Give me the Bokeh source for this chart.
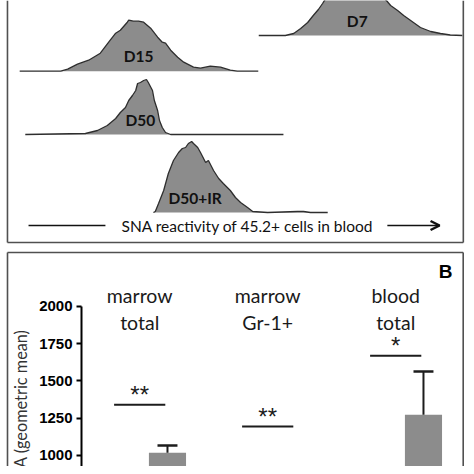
import numpy as np
from bokeh.plotting import figure
from bokeh.layouts import column
from bokeh.models import Range1d, Label, Arrow, OpenHead, LinearAxis, FixedTicker
from bokeh.core.properties import value
from bokeh.embed import file_html
from bokeh.resources import INLINE

# ---------------- Panel A: SNA histograms (channel 0-1000, arbitrary counts) -------------
hist_names = ["D7", "D15", "D50", "D50+IR"]
d7_channel = [537, 594, 612, 627, 642, 654, 665, 674, 682, 697, 723, 745, 766, 792, 811, 820,
              835, 848, 863, 884, 906, 927, 948, 974]
d7_count = [0, 0, 2, 7, 13, 20, 26, 32, 38, 44, 49, 50, 49, 43, 35, 30, 25, 20, 15, 8, 4, 2, 0.5, 0]
d15_channel = [24, 112, 127, 148, 172, 197, 215, 230, 240, 255, 258, 268, 279, 290, 305, 320, 330,
               337, 348, 363, 376, 397, 412, 433, 455, 476, 491, 536]
d15_count = [0, 0, 2, 7, 11, 18, 29, 38, 41, 49, 51, 50, 50, 49, 43, 34, 29, 28, 21, 14, 9, 4, 3,
             5, 4, 1, 0, 0]
d50_channel = [36, 165, 191, 212, 230, 240, 251, 258, 266, 273, 277, 283, 290, 296, 300, 309, 313,
               320, 324, 330, 337, 348, 590]
d50_count = [0, 1, 4, 9, 16, 22, 27, 34, 39, 44, 51, 52, 54, 55, 52, 44, 34, 24, 14, 7, 2, 0, 0]
d50ir_channel = [311, 315, 322, 333, 343, 354, 365, 373, 380, 386, 393, 397, 406, 412, 423, 429,
                 440, 451, 461, 476, 487, 498, 513, 524, 556, 620, 633, 648, 685]
d50ir_count = [0, 1, 9, 22, 39, 52, 60, 64, 65, 69, 71, 69, 65, 60, 50, 52, 42, 34, 29, 22, 15, 10,
               5, 1, 0, 1, 1, 0, 0]
panel_a_caption = "SNA reactivity of 45.2+ cells in blood"

# ---------------- Panel B: bar chart ----------------
groups = ["marrow\ntotal", "marrow\nGr-1+", "blood\ntotal"]
control_mean = [850, 820, 800]
control_err = [36, 30, 40]
treated_mean = [1018, 852, 1273]
treated_err = [49, 37, 290]
sig_labels = ["**", "**", "*"]
sig_level = [1340, 1194, 1668]
y_ticks = [1000, 1250, 1500, 1750, 2000]
y_label = "SNA (geometric mean)"
panel_b_letter = "B"

# ---------------- styles ----------------
GRAY = "#8c8c8c"
DARK = "#1c1c1c"
BORDER = "#505050"
W = 466
H_TOP = 247
H_BOT = 219

# ================= Panel A figure =================
pa = figure(width=W, height=H_TOP, x_range=Range1d(-17.17, 982.83), y_range=Range1d(1, 248),
            x_axis_location=None, y_axis_location=None, min_border=0,
            outline_line_color=None, output_backend="svg", toolbar_location=None)
pa.grid.visible = False

baselines = [213, 177.3, 114, 36]
hists = [(d7_channel, d7_count), (d15_channel, d15_count),
         (d50_channel, d50_count), (d50ir_channel, d50ir_count)]
for name, base, (ch, cnt) in zip(hist_names, baselines, hists):
    ch = np.array(ch, dtype=float)
    cnt = np.array(cnt, dtype=float)
    top = base + cnt
    pa.varea(x=ch, y1=np.full_like(ch, base), y2=top, fill_color=GRAY)
    pa.line(ch, top, line_color="#2e2e2e", line_width=1.3)
    xm = float((ch * cnt).sum() / cnt.sum())
    pa.text(x=[xm], y=[base + 15], text=[name], text_font=value("Lato"),
            text_font_style="bold", text_font_size="15.5px", text_align="center",
            text_baseline="middle", text_color="#111111")

# panel border (left, bottom, right)
pa.segment(x0=[-2.2, -2.2, 976], y0=[248, 6, 6], x1=[-2.2, 976, 976], y1=[6, 6, 248],
           line_color=BORDER, line_width=1.6)

# caption arrow
pa.segment(x0=[43], y0=[23], x1=[208], y1=[23], line_color="#111111", line_width=1.5)
pa.add_layout(Arrow(end=OpenHead(size=9, line_width=2.5, line_color="#111111"),
                    x_start=813, y_start=23, x_end=925, y_end=23,
                    line_width=1.5, line_color="#111111"))
pa.text(x=[513], y=[23], text=[panel_a_caption], text_font=value("Lato"),
        text_font_size="15.5px", text_align="center", text_baseline="middle",
        text_color="#111111")

# ================= Panel B figure =================
x_start, x_end = -1.0875, 2.5531
y_start, y_end = 926.3, 2393.2
pb = figure(width=W, height=H_BOT, x_range=Range1d(x_start, x_end), y_range=Range1d(y_start, y_end),
            x_axis_location=None, y_axis_location=None, min_border=0,
            outline_line_color=None, output_backend="svg", toolbar_location=None)
pb.grid.visible = False

yax = LinearAxis(fixed_location=-0.4547, bounds=(y_start, 2000), ticker=FixedTicker(ticks=y_ticks),
                 axis_line_width=2, axis_line_color="black",
                 major_tick_out=5, major_tick_in=0, major_tick_line_width=2,
                 minor_tick_out=0, minor_tick_in=0,
                 major_label_text_font="Liberation Sans", major_label_text_font_style="bold",
                 major_label_text_font_size="15px", major_label_standoff=4,
                 major_label_text_color="black")
pb.add_layout(yax, "left")

xs = np.arange(len(groups), dtype=float)
dodge = 0.217
bw = 0.29
cap = 0.078
pb.vbar(x=xs - dodge, top=control_mean, bottom=0, width=bw, fill_color=DARK, line_color=None)
pb.vbar(x=xs + dodge, top=treated_mean, bottom=0, width=bw, fill_color=GRAY, line_color=None)

c_top = np.array(control_mean) + np.array(control_err)
t_top = np.array(treated_mean) + np.array(treated_err)
pb.segment(x0=xs - dodge, y0=control_mean, x1=xs - dodge, y1=c_top, line_color=DARK, line_width=2)
pb.segment(x0=xs - dodge - cap, y0=c_top, x1=xs - dodge + cap, y1=c_top, line_color=DARK, line_width=3)
pb.segment(x0=xs + dodge, y0=treated_mean, x1=xs + dodge, y1=t_top, line_color=DARK, line_width=2)
pb.segment(x0=xs + dodge - cap, y0=t_top, x1=xs + dodge + cap, y1=t_top,
           line_color=[DARK, "#8a8a8a", DARK], line_width=2.5)

# significance
pb.segment(x0=xs - 0.2, y0=sig_level, x1=xs + 0.2, y1=sig_level, line_color=DARK, line_width=2)
pb.text(x=xs, y=sig_level, text=sig_labels, y_offset=-10, text_font=value("Liberation Sans"),
        text_font_size="24px", text_align="center", text_baseline="middle", text_color=DARK)

# group labels
pb.text(x=xs, y=[1981] * len(groups), text=groups, text_font=value("Lato"),
        text_font_size="19.5px", text_align="center", text_baseline="middle",
        text_line_height=1.15, text_color="#1a1a1a")

pb.add_layout(Label(x=2.389, y=2232, text=panel_b_letter, text_font="Liberation Sans",
                    text_font_style="bold", text_font_size="19px", text_align="center",
                    text_baseline="middle", text_color="black"))
pb.add_layout(Label(x=-0.931, y=1844, text=y_label, angle=np.pi / 2, text_font="Lato",
                    text_font_size="16.3px", text_align="right", text_baseline="middle",
                    text_color="#333333"))

# panel border (left, top, right)
pb.segment(x0=[-1.0328, -1.0328, 2.5273], y0=[y_start, 2359.7, 2359.7],
           x1=[-1.0328, 2.5273, 2.5273], y1=[2359.7, 2359.7, y_start],
           line_color=BORDER, line_width=1.6)

layout = column(pa, pb, spacing=0)
open("out.html", "w").write(file_html(layout, INLINE))
